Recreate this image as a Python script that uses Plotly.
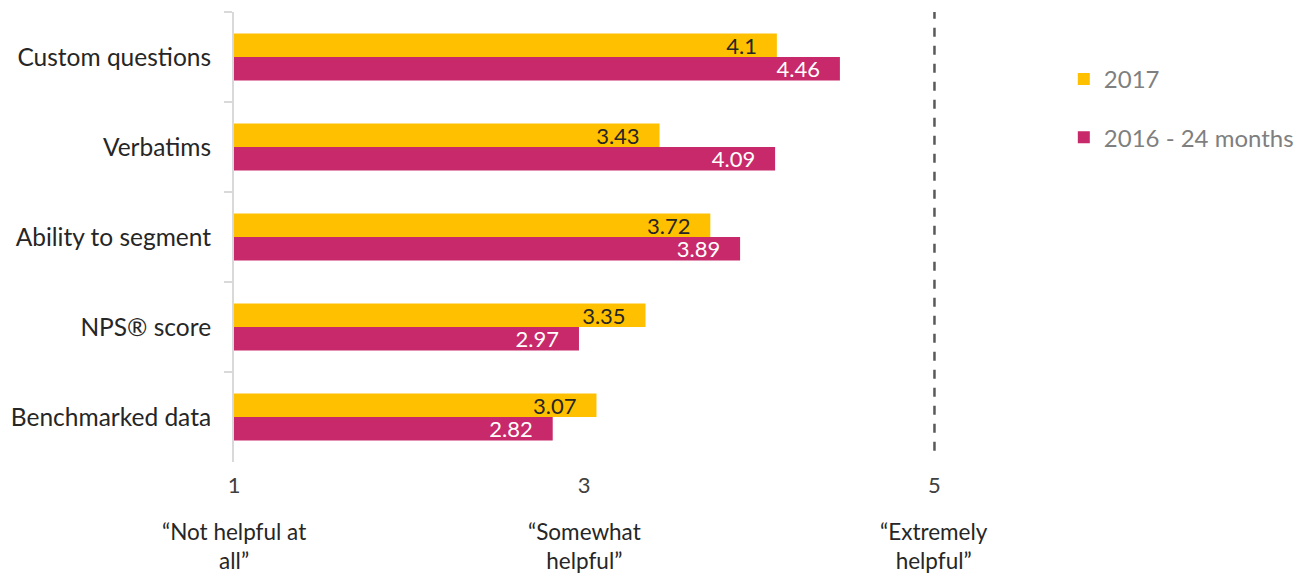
import plotly.graph_objects as go

categories = ["Custom questions", "Verbatims", "Ability to segment", "NPS® score", "Benchmarked data"]
values_2017 = [4.1, 3.43, 3.72, 3.35, 3.07]
values_2016 = [4.46, 4.09, 3.89, 2.97, 2.82]
series_names = ["2017", "2016 - 24 months"]
tick_vals = [1, 3, 5]
tick_labels = ["1", "3", "5"]
scale_labels = ["“Not helpful at<br>all”", "“Somewhat<br>helpful”", "“Extremely<br>helpful”"]

YELLOW = "#FFC000"
PINK = "#C8296A"
FONT = "Lato, 'Open Sans', sans-serif"
PAD = "\u00a0\u00a0\u00a0"

fig = go.Figure()
fig.add_trace(go.Bar(
    y=categories, x=values_2017, name=series_names[0], orientation="h",
    marker=dict(color=YELLOW, line=dict(width=0)),
    text=[str(v) + PAD for v in values_2017], textposition="inside", insidetextanchor="end",
    constraintext="none", textangle=0, hoverinfo="x+y",
    textfont=dict(color="#262626", size=22, family=FONT), legendgroup="a",
))
fig.add_trace(go.Bar(
    y=categories, x=values_2016, name=series_names[1], orientation="h",
    marker=dict(color=PINK, line=dict(width=0)),
    text=[str(v) + PAD for v in values_2016], textposition="inside", insidetextanchor="end",
    constraintext="none", textangle=0, hoverinfo="x+y",
    textfont=dict(color="white", size=22, family=FONT), legendgroup="b",
))

fig.add_shape(type="line", x0=5, x1=5, xref="x", y0=0.025, y1=1, yref="paper",
              line=dict(color="#595959", width=2.5, dash="dash"))

# plot area: top 12px, height 450px -> paper y for pixel row p is (462 - p) / 450
for xv, lab in zip(tick_vals, scale_labels):
    fig.add_annotation(x=xv, xref="x", y=(462 - 546) / 450, yref="paper", yanchor="middle",
                       text=lab, showarrow=False,
                       font=dict(size=22.5, color="#262626", family=FONT))

fig.update_layout(
    width=1302, height=575,
    margin=dict(l=234, r=315, t=12, b=113, autoexpand=False),
    paper_bgcolor="white", plot_bgcolor="white",
    barmode="group", bargap=0.48, bargroupgap=0,
    font=dict(family=FONT, color="#262626"),
    xaxis=dict(range=[1, 5.3], tickvals=tick_vals, ticktext=tick_labels,
               showgrid=False, zeroline=False, showline=False,
               tickfont=dict(size=22, color="#404040"), ticks="", ticklabelstandoff=8),
    yaxis=dict(autorange="reversed", showgrid=False, zeroline=False,
               showline=True, linecolor="#D9D9D9", linewidth=2,
               ticks="outside", tickson="boundaries", ticklen=8, tickcolor="#D9D9D9", tickwidth=2,
               tickfont=dict(size=24.5, color="#262626"), ticklabelstandoff=16),
    legend=dict(x=1.102, xanchor="left", y=0.9, yanchor="top",
                font=dict(size=24, color="#7F7F7F"), tracegroupgap=24,
                bgcolor="rgba(0,0,0,0)"),
    showlegend=True,
)

fig.write_html("out.html")
